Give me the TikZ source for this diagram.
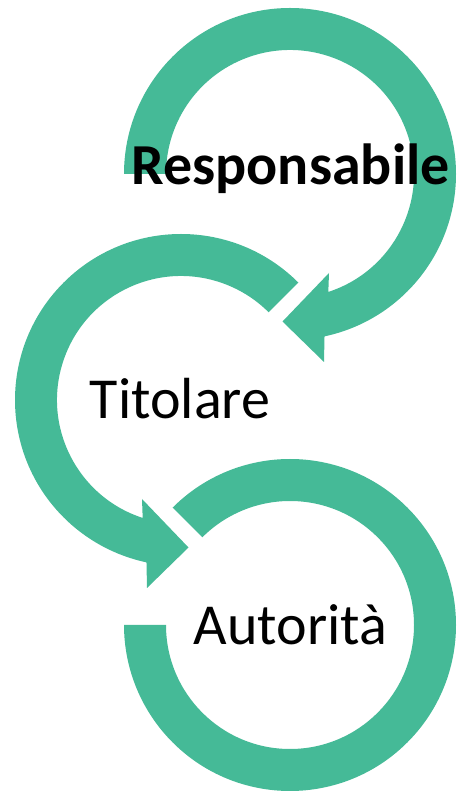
\documentclass[tikz,border=0pt]{standalone}
\usepackage{fontspec}
\setmainfont{Carlito}
\usetikzlibrary{calc}
\definecolor{arrowgreen}{RGB}{69,186,151}
\begin{document}
\begin{tikzpicture}[x=1pt,y=1pt,
  band/.style={fill=arrowgreen,draw=none},
  label/.style={anchor=base,inner sep=0pt,font=\fontsize{58}{60}\selectfont,text=black}]
\useasboundingbox (0,0) rectangle (457,793);
\coordinate (c1) at (290,619);
\coordinate (c2) at (181,393);
\coordinate (c3) at (290,168);
% top arrow (clockwise)
\fill[band] ($(c1)+(180:166)$) arc[start angle=180,end angle=-78,radius=166]
  -- ($(c1)+(34,-188)$) -- ($(c1)+(-7.5,-147.5)$) -- ($(c1)+(39,-99)$)
  -- ($(c1)+(-72:124)$) arc[start angle=-72,end angle=180,radius=124] -- cycle;
% middle arrow (counter-clockwise)
\fill[band] ($(c2)+(45:166)$) arc[start angle=45,end angle=258,radius=166]
  -- ($(c2)+(-34,-188)$) -- ($(c2)+(7.5,-147.5)$) -- ($(c2)+(-39,-99)$)
  -- ($(c2)+(252:124)$) arc[start angle=252,end angle=45,radius=124] -- cycle;
% bottom ring segment
\fill[band] ($(c3)+(135:166)$) arc[start angle=135,end angle=-180,radius=166]
  -- ($(c3)+(180:124)$) arc[start angle=-180,end angle=135,radius=124] -- cycle;
\node[label,font=\fontsize{58}{60}\selectfont\bfseries] (resp) at (290.5,608) {Responsabile};
\node[label] (tit) at (180,374) {Titolare};
\node[label] (aut) at (290.5,148) {Autorità};
\end{tikzpicture}
\end{document}
